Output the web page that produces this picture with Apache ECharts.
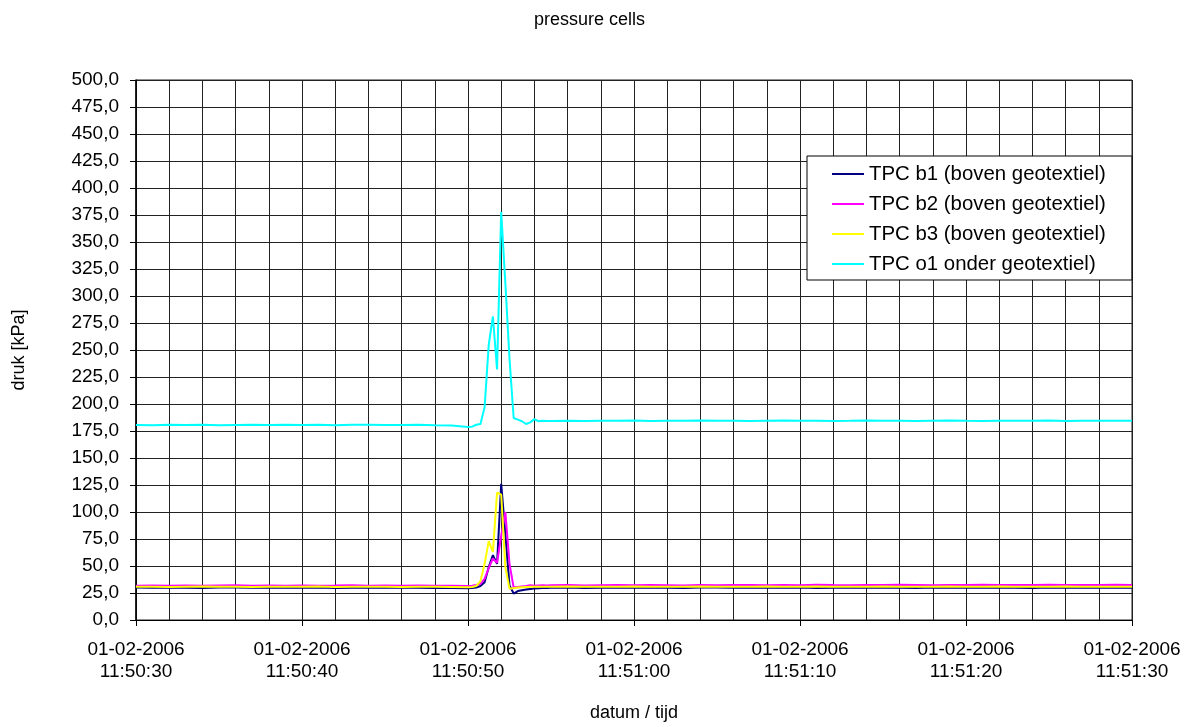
<!DOCTYPE html>
<html>
<head>
<meta charset="utf-8">
<title>pressure cells</title>
<script src="https://cdn.jsdelivr.net/npm/echarts@6/dist/echarts.min.js"></script>
<style>
  html, body { margin: 0; padding: 0; background: #fff; }
  #chart { width: 1199px; height: 727px; }
</style>
</head>
<body>
<div id="chart"></div>
<script>
// Seconds after 01-02-2006 11:50:30
const times = [
  0, 1, 2, 3, 4, 5, 6, 7, 8, 9, 10, 11, 12, 13, 14, 15, 16, 17, 18, 19, 20,
  20.25, 20.5, 20.75, 21, 21.25, 21.5, 21.75, 22, 22.25, 22.5, 22.75, 23, 23.25, 23.5, 23.75, 24, 24.25, 24.5, 24.75,
  25, 26, 27, 28, 29, 30, 31, 32, 33, 34, 35, 36, 37, 38, 39, 40, 41, 42,
  43, 44, 45, 46, 47, 48, 49, 50, 51, 52, 53, 54, 55, 56, 57, 58, 59, 60
];

// TPC b1 (boven geotextiel) [kPa]
const b1 = [
  30.0, 29.8, 30.1, 29.9, 29.7, 30.0, 30.2, 29.9, 29.8, 30.1, 29.9, 30.0, 29.7, 29.9, 30.1, 29.8, 30.0, 29.9, 29.7, 29.6, 29.4,
  29.6, 30.0, 31.5, 35.0, 49.0, 60.0, 52.0, 126.0, 80.0, 32.0, 24.5, 26.8, 27.5, 28.2, 28.8, 29.2, 29.4, 29.6, 29.7,
  29.8, 30.0, 29.7, 29.9, 30.1, 29.8, 30.0, 29.9, 29.7, 30.0, 30.2, 29.9, 29.8, 30.1, 29.9, 30.0, 29.7, 29.9,
  30.1, 29.8, 30.0, 29.9, 29.7, 30.0, 29.9, 30.1, 29.8, 30.0, 29.9, 29.7, 30.0, 29.9, 30.1, 29.8, 30.0, 29.9
];

// TPC b2 (boven geotextiel) [kPa]
const b2 = [
  31.7, 31.9, 31.8, 32.0, 31.7, 31.9, 32.1, 31.8, 31.9, 31.7, 32.0, 31.8, 31.9, 32.1, 31.7, 31.9, 31.8, 32.0, 31.7, 31.6, 31.4,
  31.7, 32.4, 33.5, 38.0, 48.0, 57.0, 53.0, 78.0, 100.0, 52.0, 30.0, 30.5, 31.0, 31.5, 32.2, 31.8, 32.0, 32.1, 32.0,
  32.1, 32.3, 32.0, 32.2, 32.4, 32.1, 32.3, 32.2, 32.0, 32.4, 32.2, 32.5, 32.3, 32.1, 32.4, 32.2, 32.6, 32.3,
  32.2, 32.5, 32.3, 32.6, 32.4, 32.2, 32.5, 32.3, 32.6, 32.4, 32.5, 32.3, 32.6, 32.4, 32.5, 32.3, 32.6, 32.5
];

// TPC b3 (boven geotextiel) [kPa]
const b3 = [
  30.7, 30.9, 30.6, 30.8, 31.0, 30.7, 30.8, 30.5, 30.9, 30.7, 30.8, 31.0, 30.6, 30.8, 30.7, 30.9, 30.6, 30.8, 30.7, 30.5, 30.3,
  30.6, 31.5, 36.0, 52.0, 73.0, 63.0, 118.0, 116.0, 49.0, 29.0, 29.5, 30.0, 30.3, 30.5, 30.7, 30.8, 30.8, 30.7, 30.8,
  30.8, 31.0, 30.7, 30.9, 30.8, 31.1, 30.8, 30.9, 30.7, 31.0, 30.8, 30.9, 30.7, 31.0, 30.8, 30.9, 31.1, 30.8,
  30.9, 30.7, 31.0, 30.8, 30.9, 30.7, 31.0, 30.8, 30.9, 31.1, 30.8, 30.9, 30.7, 31.0, 30.8, 30.9, 30.8, 30.9
];

// TPC o1 onder geotextiel) [kPa]
const o1 = [
  180.6, 180.4, 180.8, 180.5, 180.7, 180.3, 180.6, 180.9, 180.5, 180.7, 180.6, 180.8, 180.4, 180.7, 180.9, 180.6, 180.5, 180.8, 180.4, 180.2, 178.6,
  179.0, 180.8, 181.5, 197.0, 255.0, 281.0, 232.0, 378.0, 312.0, 242.0, 187.0, 185.5, 184.0, 181.5, 183.0, 186.0, 184.0, 184.5, 184.3,
  184.3, 184.6, 184.2, 184.5, 184.4, 184.7, 184.3, 184.6, 184.5, 184.8, 184.4, 184.6, 184.3, 184.5, 184.7, 184.4, 184.6, 184.3,
  184.5, 184.8, 184.4, 184.6, 184.2, 184.5, 184.7, 184.4, 184.3, 184.6, 184.5, 184.4, 184.7, 184.3, 184.5, 184.6, 184.4, 184.5
];

const seriesNames = [
  'TPC b1 (boven geotextiel)',
  'TPC b2 (boven geotextiel)',
  'TPC b3 (boven geotextiel)',
  'TPC o1 onder geotextiel)'
];
const seriesColors = ['#000080', '#FF00FF', '#FFFF00', '#00FFFF'];

// Labels of the major time ticks, one every 10 seconds
const timeTickLabels = [
  '01-02-2006\n11:50:30', '01-02-2006\n11:50:40', '01-02-2006\n11:50:50',
  '01-02-2006\n11:51:00', '01-02-2006\n11:51:10', '01-02-2006\n11:51:20',
  '01-02-2006\n11:51:30'
];

const FONT = '"Liberation Sans", Arial, sans-serif';
const allValues = [b1, b2, b3, o1];

const chart = echarts.init(document.getElementById('chart'), null, { renderer: 'canvas' });

chart.setOption({
  backgroundColor: '#ffffff',
  animation: false,
  textStyle: { fontFamily: FONT, color: '#000' },
  title: {
    text: 'pressure cells',
    left: 529,
    top: 6,
    textStyle: { fontFamily: FONT, fontSize: 18, fontWeight: 'normal', color: '#000' }
  },
  grid: {
    left: 136, right: 67, top: 80, bottom: 102,
    show: true, borderColor: '#222', borderWidth: 1, backgroundColor: '#fff'
  },
  legend: {
    orient: 'vertical',
    left: 807, top: 156,
    padding: [8, 26, 6, 25],
    itemGap: 10,
    itemWidth: 32, itemHeight: 2,
    icon: 'rect',
    backgroundColor: '#fff',
    borderColor: '#000', borderWidth: 1,
    textStyle: { fontFamily: FONT, fontSize: 20.4, color: '#000', padding: [0, 0, 0, 0] },
    data: seriesNames
  },
  xAxis: {
    type: 'value',
    min: 0, max: 60, interval: 10,
    name: 'datum / tijd',
    nameLocation: 'middle',
    nameGap: 84,
    nameTextStyle: { fontFamily: FONT, fontSize: 18, color: '#000' },
    axisLine: { show: true, lineStyle: { color: '#000', width: 1 } },
    axisTick: { show: true, inside: false, length: 6, lineStyle: { color: '#000' } },
    minorTick: { show: false, splitNumber: 5 },
    splitLine: { show: true, lineStyle: { color: '#222', width: 1 } },
    minorSplitLine: { show: true, lineStyle: { color: '#222', width: 1 } },
    axisLabel: {
      fontFamily: FONT, fontSize: 19, color: '#000', lineHeight: 22, margin: 19,
      formatter: v => timeTickLabels[Math.round(v / 10)]
    }
  },
  yAxis: {
    type: 'value',
    min: 0, max: 500, interval: 25,
    name: 'druk [kPa]',
    nameLocation: 'middle',
    nameGap: 108,
    nameRotate: 90,
    nameTextStyle: { fontFamily: FONT, fontSize: 18, color: '#000' },
    axisLine: { show: true, lineStyle: { color: '#000', width: 1.5 } },
    axisTick: { show: true, inside: false, length: 6, lineStyle: { color: '#000' } },
    splitLine: { show: true, lineStyle: { color: '#222', width: 1 } },
    axisLabel: {
      fontFamily: FONT, fontSize: 19, color: '#000', margin: 17,
      formatter: v => v.toFixed(1).replace('.', ',')
    }
  },
  series: seriesNames.map((name, k) => ({
    name: name,
    type: 'line',
    symbol: 'none',
    showSymbol: false,
    data: times.map((t, i) => [t, allValues[k][i]]),
    lineStyle: { color: seriesColors[k], width: 2 },
    itemStyle: { color: seriesColors[k] },
    z: 2 + k
  }))
});
</script>
</body>
</html>
